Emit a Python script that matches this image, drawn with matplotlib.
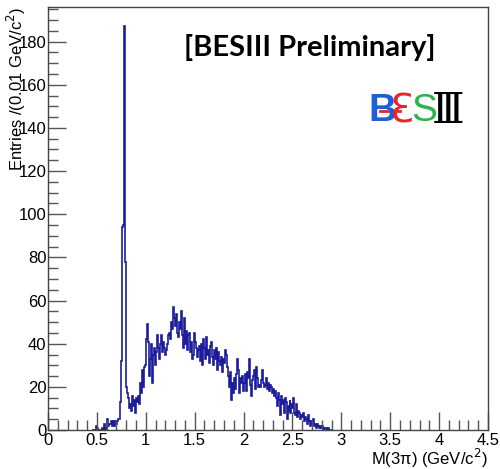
import numpy as np
import matplotlib.pyplot as plt

# M(3pi) spectrum, 0.01 GeV/c^2 bins starting at 0.45 GeV/c^2
bin_lo = 0.45
bin_w = 0.01
counts = [
    0, 0, 0, 0, 2,                                  # 0.45-0.49
    1, 0, 0, 0, 0, 1, 0, 3, 0, 1,                   # 0.50
    5, 2, 3, 3, 4, 2, 4, 3, 2, 4,                   # 0.60
    3, 4, 5, 5, 13, 32, 94, 95, 187, 78,            # 0.70
    20, 17, 15, 10, 12, 9, 16, 11, 14, 8,           # 0.80
    15, 13, 16, 12, 22, 17, 28, 20, 29, 30,         # 0.90
    42, 49, 41, 25, 33, 40, 22, 35, 38, 30,         # 1.00
    36, 44, 43, 38, 33, 40, 44, 36, 41, 38,         # 1.10
    35, 37, 40, 44, 45, 42, 50, 47, 57, 52,         # 1.20
    48, 54, 45, 43, 50, 47, 55, 44, 38, 52,         # 1.30
    40, 46, 37, 44, 45, 36, 41, 33, 35, 45,         # 1.40
    41, 38, 34, 37, 39, 32, 40, 36, 30, 42,         # 1.50
    38, 33, 43, 35, 37, 31, 39, 41, 34, 30,         # 1.60
    37, 33, 38, 28, 36, 32, 30, 34, 27, 33,         # 1.70
    31, 37, 35, 29, 25, 20, 27, 14, 22, 17,         # 1.80
    24, 19, 26, 33, 28, 17, 24, 22, 25, 18,         # 1.90
    22, 26, 21, 18, 27, 24, 33, 21, 16, 23,         # 2.00
    25, 28, 19, 29, 24, 20, 21, 20, 23, 28,         # 2.10
    22, 20, 21, 24, 19, 22, 18, 21, 20, 17,         # 2.20
    19, 16, 18, 15, 11, 17, 14, 7, 16, 12,          # 2.30
    14, 8, 15, 13, 5, 11, 9, 14, 8, 12,             # 2.40
    10, 15, 8, 7, 12, 6, 9, 8, 5, 7,                # 2.50
    6, 8, 4, 6, 5, 3, 7, 4, 2, 4,                   # 2.60
    3, 5, 2, 3, 1, 3, 2, 1, 2, 1,                   # 2.70
    2, 1, 0, 1, 1, 0, 1, 0, 0, 0,                   # 2.80
]
counts = np.array(counts, dtype=float)
edges = bin_lo + bin_w * np.arange(len(counts) + 1)

x_ticks = [0, 0.5, 1, 1.5, 2, 2.5, 3, 3.5, 4, 4.5]
x_labels = ["0", "0.5", "1", "1.5", "2", "2.5", "3", "3.5", "4", "4.5"]
y_ticks = [0, 20, 40, 60, 80, 100, 120, 140, 160, 180]

plt.rcParams['font.family'] = ['Liberation Sans', 'DejaVu Sans']

fig = plt.figure(figsize=(5.0, 4.69), dpi=100)
ax = fig.add_axes([0.096, 0.083, 0.88, 0.902])

ax.stairs(counts, edges, color='#1c1c9c', lw=1.2)

ax.set_xlim(0, 4.5)
ax.set_ylim(0, 196)
ax.set_xticks(x_ticks)
ax.set_xticklabels(x_labels)
ax.set_xticks(np.arange(0, 4.5, 0.1), minor=True)
ax.set_yticks(y_ticks)
ax.set_yticks(np.arange(0, 196, 5), minor=True)

ax.tick_params(which='both', direction='in', colors='#555555', labelcolor='black',
               labelsize=12, width=1)
ax.tick_params(which='major', length=13)
ax.tick_params(which='minor', length=7)
ax.tick_params(axis='x', pad=2)
ax.tick_params(axis='y', pad=1)
for s in ax.spines.values():
    s.set_color('#444444')
    s.set_linewidth(1)

ax.set_xlabel('M(3π) (GeV/c$^{2}$)', fontsize=12, loc='right', labelpad=-1)
ax.set_ylabel('Entries /(0.01 GeV/c$^{2}$)', fontsize=12, loc='top')
ax.yaxis.set_label_coords(-0.046, 1.0)

ax.text(0.595, 0.905, '[BESIII Preliminary]', transform=ax.transAxes,
        fontsize=21, fontweight='bold', family=['Lato', 'DejaVu Sans'],
        ha='center', va='center')

# BESIII logo built from coloured letters
logo_y = 0.754
ax.text(0.727, logo_y, 'B', transform=ax.transAxes, color='#1f5fd6',
        fontsize=28, fontweight='bold', ha='left', va='center')
ax.text(0.778, logo_y, 'Ɛ', transform=ax.transAxes, color='#e8262a',
        fontsize=28, ha='left', va='center', family=['DejaVu Sans'])
ax.plot([0.755, 0.80], [logo_y, logo_y], transform=ax.transAxes,
        color='#e8262a', lw=2)
ax.text(0.826, logo_y, 'S', transform=ax.transAxes, color='#2cb34a',
        fontsize=28, ha='left', va='center')
ax.text(0.872, logo_y, 'Ⅲ', transform=ax.transAxes, color='black',
        fontsize=30, ha='left', va='center', family=['DejaVu Serif', 'DejaVu Sans'])

fig.savefig('out.png', dpi=100)
